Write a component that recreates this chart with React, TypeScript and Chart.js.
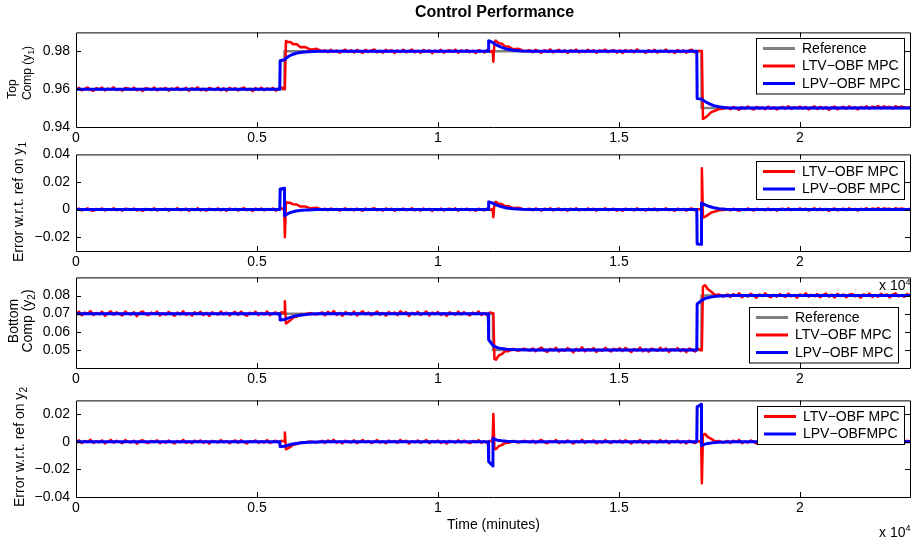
import React, { useEffect, useRef } from 'react';
import { Chart, registerables } from 'chart.js';

Chart.register(...registerables);

const FONT = "'Liberation Sans', Arial, Helvetica, sans-serif";
Chart.defaults.font.family = FONT;
Chart.defaults.color = '#000';

// ---- Setpoints (minutes / composition) ----
const refTime = [0, 5760, 5760, 11520, 11520, 17280, 17280, 23040];
const refTop = [0.96, 0.96, 0.98, 0.98, 0.98, 0.98, 0.95, 0.95];
const refBottom = [0.07, 0.07, 0.07, 0.07, 0.05, 0.05, 0.08, 0.08];

// sampling instants of a logged run: from, from + step, ..., to
function sampleInstants(from: number, to: number, step: number): number[] {
  const out: number[] = [];
  for (let t = from; t <= to; t += step) out.push(t);
  return out;
}

// ---- LTV-OBF MPC: measured compositions ----
// steady stretches are logged every 80 min; setpoint transients at their own instants
const LTV_TS = 80;
const ltvTime = [
  ...sampleInstants(0, 5680, LTV_TS), 5750,
  5770, 5800, 5850, 5920, 6000, 6100, 6200, 6320, 6480, 6640, 6800,
  ...sampleInstants(6880, 11440, LTV_TS), 11510,
  11530, 11560, 11600, 11680, 11760, 11850, 11950, 12080, 12220, 12380, 12540,
  ...sampleInstants(12620, 17180, LTV_TS), 17270,
  17290, 17320, 17380, 17450, 17550, 17650, 17760, 17880, 18000,
  ...sampleInstants(18080, 23040, LTV_TS),
];
const ltvTop = [
  // 0 – 5680
  0.9597, 0.9607, 0.9594, 0.9602, 0.9609, 0.9596, 0.9591, 0.9605, 0.9600, 0.9608,
  0.9593, 0.9603, 0.9598, 0.9610, 0.9595, 0.9601, 0.9592, 0.9606, 0.9604, 0.9597,
  0.9608, 0.9594, 0.9601, 0.9590, 0.9605, 0.9602, 0.9596, 0.9609, 0.9593, 0.9603,
  0.9600, 0.9606, 0.9592, 0.9604, 0.9598, 0.9609, 0.9595, 0.9599, 0.9607, 0.9591,
  0.9605, 0.9597, 0.9610, 0.9594, 0.9602, 0.9592, 0.9606, 0.9601, 0.9596, 0.9608,
  0.9594, 0.9604, 0.9591, 0.9607, 0.9599, 0.9605, 0.9593, 0.9603, 0.9609, 0.9595,
  0.9602, 0.9590, 0.9606, 0.9597, 0.9608, 0.9594, 0.9604, 0.9598, 0.9607, 0.9592,
  0.9603, 0.9609,
  0.9601,
  // first setpoint change
  0.9600, 0.9855, 0.9849, 0.9849, 0.9838, 0.9837, 0.9822, 0.9823, 0.9809, 0.9813, 0.9801,
  // 6880 – 11440
  0.9806, 0.9795, 0.9808, 0.9798, 0.9804, 0.9792, 0.9802, 0.9809, 0.9796, 0.9805,
  0.9794, 0.9807, 0.9800, 0.9791, 0.9808, 0.9797, 0.9805, 0.9810, 0.9795, 0.9802,
  0.9793, 0.9808, 0.9799, 0.9806, 0.9791, 0.9804, 0.9797, 0.9808, 0.9795, 0.9801,
  0.9809, 0.9794, 0.9803, 0.9792, 0.9807, 0.9798, 0.9805, 0.9790, 0.9804, 0.9796,
  0.9808, 0.9793, 0.9802, 0.9806, 0.9797, 0.9809, 0.9792, 0.9804, 0.9799, 0.9807,
  0.9795, 0.9803, 0.9791, 0.9806, 0.9801, 0.9794, 0.9808, 0.9798,
  0.9802,
  // second setpoint change
  0.9745, 0.9850, 0.9857, 0.9842, 0.9841, 0.9826, 0.9825, 0.9811, 0.9814, 0.9801, 0.9806,
  // 12620 – 17180
  0.9795, 0.9808, 0.9800, 0.9792, 0.9806, 0.9797, 0.9810, 0.9794, 0.9802, 0.9808,
  0.9796, 0.9805, 0.9791, 0.9806, 0.9799, 0.9809, 0.9794, 0.9803, 0.9796, 0.9808,
  0.9798, 0.9806, 0.9792, 0.9804, 0.9800, 0.9809, 0.9795, 0.9803, 0.9806, 0.9793,
  0.9804, 0.9791, 0.9807, 0.9798, 0.9805, 0.9794, 0.9810, 0.9797, 0.9801, 0.9792,
  0.9806, 0.9796, 0.9808, 0.9793, 0.9803, 0.9799, 0.9809, 0.9795, 0.9802, 0.9791,
  0.9807, 0.9797, 0.9805, 0.9792, 0.9804, 0.9808, 0.9794, 0.9802,
  0.9802,
  // third setpoint change
  0.9800, 0.9443, 0.9449, 0.9460, 0.9479, 0.9486, 0.9495, 0.9497, 0.9503,
  // 18080 – 23040
  0.9494, 0.9506, 0.9498, 0.9491, 0.9504, 0.9496, 0.9508, 0.9500, 0.9492, 0.9506,
  0.9498, 0.9503, 0.9494, 0.9508, 0.9496, 0.9504, 0.9492, 0.9502, 0.9506, 0.9497,
  0.9510, 0.9496, 0.9504, 0.9500, 0.9508, 0.9498, 0.9506, 0.9493, 0.9502, 0.9509,
  0.9495, 0.9507, 0.9497, 0.9505, 0.9491, 0.9503, 0.9508, 0.9494, 0.9501, 0.9507,
  0.9496, 0.9509, 0.9498, 0.9505, 0.9493, 0.9506, 0.9500, 0.9510, 0.9497, 0.9508,
  0.9502, 0.9511, 0.9499, 0.9509, 0.9504, 0.9507, 0.9498, 0.9510, 0.9503, 0.9508,
  0.9505, 0.9501, 0.9506,
];
const ltvBottom = [
  // 0 – 5680
  0.0695, 0.0711, 0.0691, 0.0706, 0.0698, 0.0714, 0.0692, 0.0704, 0.0697, 0.0710,
  0.0688, 0.0702, 0.0713, 0.0694, 0.0707, 0.0699, 0.0690, 0.0712, 0.0700, 0.0695,
  0.0708, 0.0686, 0.0704, 0.0712, 0.0697, 0.0691, 0.0706, 0.0698, 0.0711, 0.0690,
  0.0702, 0.0694, 0.0709, 0.0700, 0.0688, 0.0706, 0.0696, 0.0713, 0.0693, 0.0703,
  0.0689, 0.0708, 0.0698, 0.0710, 0.0692, 0.0705, 0.0687, 0.0707, 0.0701, 0.0694,
  0.0712, 0.0696, 0.0706, 0.0690, 0.0703, 0.0709, 0.0693, 0.0711, 0.0697, 0.0688,
  0.0705, 0.0699, 0.0710, 0.0692, 0.0704, 0.0695, 0.0712, 0.0691, 0.0702, 0.0707,
  0.0694, 0.0708,
  0.0703,
  // first setpoint change
  0.0768, 0.0646, 0.0652, 0.0663, 0.0678, 0.0684, 0.0695, 0.0697, 0.0703, 0.0695, 0.0707,
  // 6880 – 11440
  0.0691, 0.0710, 0.0698, 0.0714, 0.0693, 0.0704, 0.0688, 0.0708, 0.0700, 0.0695,
  0.0711, 0.0690, 0.0702, 0.0713, 0.0696, 0.0706, 0.0691, 0.0701, 0.0712, 0.0694,
  0.0704, 0.0689, 0.0709, 0.0698, 0.0706, 0.0692, 0.0713, 0.0700, 0.0708, 0.0687,
  0.0705, 0.0696, 0.0710, 0.0693, 0.0702, 0.0712, 0.0690, 0.0706, 0.0697, 0.0709,
  0.0692, 0.0703, 0.0688, 0.0707, 0.0701, 0.0694, 0.0711, 0.0695, 0.0708, 0.0698,
  0.0690, 0.0706, 0.0697, 0.0712, 0.0693, 0.0704, 0.0691, 0.0707,
  0.0703,
  // second setpoint change
  0.0701, 0.0450, 0.0446, 0.0469, 0.0476, 0.0492, 0.0493, 0.0506, 0.0495, 0.0507, 0.0496,
  // 12620 – 17180
  0.0508, 0.0492, 0.0504, 0.0513, 0.0496, 0.0489, 0.0506, 0.0498, 0.0512, 0.0491,
  0.0502, 0.0494, 0.0510, 0.0500, 0.0487, 0.0506, 0.0496, 0.0514, 0.0492, 0.0504,
  0.0498, 0.0510, 0.0489, 0.0502, 0.0494, 0.0512, 0.0500, 0.0491, 0.0506, 0.0497,
  0.0509, 0.0493, 0.0511, 0.0499, 0.0488, 0.0505, 0.0495, 0.0513, 0.0492, 0.0503,
  0.0490, 0.0507, 0.0501, 0.0494, 0.0512, 0.0496, 0.0508, 0.0489, 0.0504, 0.0498,
  0.0510, 0.0493, 0.0505, 0.0488, 0.0508, 0.0500, 0.0491, 0.0506,
  0.0498,
  // third setpoint change
  0.0500, 0.0850, 0.0857, 0.0836, 0.0821, 0.0803, 0.0806, 0.0794, 0.0806,
  // 18080 – 23040
  0.0792, 0.0808, 0.0798, 0.0812, 0.0790, 0.0802, 0.0794, 0.0810, 0.0800, 0.0788,
  0.0806, 0.0796, 0.0812, 0.0798, 0.0790, 0.0804, 0.0794, 0.0808, 0.0800, 0.0792,
  0.0810, 0.0796, 0.0802, 0.0788, 0.0806, 0.0798, 0.0812, 0.0794, 0.0804, 0.0796,
  0.0808, 0.0791, 0.0803, 0.0811, 0.0793, 0.0805, 0.0789, 0.0809, 0.0797, 0.0806,
  0.0790, 0.0804, 0.0809, 0.0795, 0.0801, 0.0788, 0.0807, 0.0798, 0.0811, 0.0792,
  0.0803, 0.0794, 0.0810, 0.0799, 0.0806, 0.0790, 0.0805, 0.0812, 0.0796, 0.0802,
  0.0793, 0.0808, 0.0800,
];

// ---- LPV-OBF MPC: compositions (acts one sample ahead of each setpoint change) ----
const lpvTime = [
  0, 5630, 5640, 5759, 5760, 5800, 5880, 5960, 6080, 6240, 6420, 6650, 6900,
  11390, 11400, 11519, 11520, 11560, 11640, 11760, 11900, 12080, 12300, 12550,
  17150, 17160, 17279, 17280, 17320, 17400, 17500, 17620, 17760, 17950, 18200, 23040,
];
const lpvTop = [
  0.9600, 0.9600, 0.9750, 0.9755, 0.9755, 0.9763, 0.9774, 0.9782, 0.9790, 0.9795, 0.9798, 0.9800, 0.9800,
  0.9800, 0.9856, 0.9846, 0.9846, 0.9840, 0.9831, 0.9821, 0.9812, 0.9806, 0.9802, 0.9800,
  0.9800, 0.9550, 0.9548, 0.9548, 0.9542, 0.9532, 0.9522, 0.9513, 0.9507, 0.9502, 0.9500, 0.9500,
];
const lpvBottom = [
  0.0700, 0.0700, 0.0665, 0.0668, 0.0668, 0.0671, 0.0677, 0.0682, 0.0688, 0.0693, 0.0696, 0.0699, 0.0700,
  0.0700, 0.0556, 0.0525, 0.0525, 0.0519, 0.0512, 0.0507, 0.0504, 0.0502, 0.0501, 0.0500,
  0.0500, 0.0753, 0.0772, 0.0772, 0.0778, 0.0785, 0.0790, 0.0794, 0.0797, 0.0799, 0.0800, 0.0800,
];

// ---- Axis ticks ----
const timeTicks = [0, 5000, 10000, 15000, 20000];
const timeTickLabels = ['0', '0.5', '1', '1.5', '2'];
const topTicks = [0.94, 0.96, 0.98];
const topTickLabels = ['0.94', '0.96', '0.98'];
const errTopTicks = [-0.02, 0, 0.02, 0.04];
const errTopTickLabels = ['\u22120.02', '0', '0.02', '0.04'];
const bottomTicks = [0.05, 0.06, 0.07, 0.08];
const bottomTickLabels = ['0.05', '0.06', '0.07', '0.08'];
const errBottomTicks = [-0.04, -0.02, 0, 0.02];
const errBottomTickLabels = ['\u22120.04', '\u22120.02', '0', '0.02'];

const T_END = 23040;

type Pt = { x: number; y: number };

function series(t: number[], v: number[]): Pt[] {
  const n = Math.min(t.length, v.length);
  const out: Pt[] = [];
  for (let i = 0; i < n; i++) out.push({ x: t[i], y: v[i] });
  return out;
}

function setpointAt(t: number, vals: number[]): number {
  let v = vals[0];
  for (let i = 0; i < refTime.length; i++) if (refTime[i] <= t) v = vals[i];
  return v;
}

// tracking error = output - setpoint
function trackingError(t: number[], v: number[], ref: number[]): Pt[] {
  return series(t, v).map((p) => ({ x: p.x, y: p.y - setpointAt(p.x, ref) }));
}

const GREY = '#808080';
const RED = '#ff0000';
const BLUE = '#0000ff';

type Line = { label: string; color: string; width: number; order: number; points: Pt[] };
type LegendBox = { right: number; top: number; w: number };
type PanelSpec = {
  top: number; bottom: number;
  yMin: number; yMax: number; yTicks: number[]; yTickLabels: string[];
  lines: Line[]; legend: LegendBox;
};

const RED_W = 2.5;
const BLUE_W = 3;
const GREY_W = 2.5;

const panels: PanelSpec[] = [
  {
    top: 28, bottom: 127, yMin: 0.94, yMax: 0.99, yTicks: topTicks, yTickLabels: topTickLabels,
    lines: [
      { label: 'Reference', color: GREY, width: GREY_W, order: 2, points: series(refTime, refTop) },
      { label: 'LTV\u2212OBF MPC', color: RED, width: RED_W, order: 1, points: series(ltvTime, ltvTop) },
      { label: 'LPV\u2212OBF MPC', color: BLUE, width: BLUE_W, order: 0, points: series(lpvTime, lpvTop) },
    ],
    legend: { right: 6, top: 6, w: 148 },
  },
  {
    top: 150, bottom: 251, yMin: -0.03, yMax: 0.04, yTicks: errTopTicks, yTickLabels: errTopTickLabels,
    lines: [
      { label: 'LTV\u2212OBF MPC', color: RED, width: RED_W, order: 1, points: trackingError(ltvTime, ltvTop, refTop) },
      { label: 'LPV\u2212OBF MPC', color: BLUE, width: BLUE_W, order: 0, points: trackingError(lpvTime, lpvTop, refTop) },
    ],
    legend: { right: 6, top: 7, w: 148 },
  },
  {
    top: 273, bottom: 368, yMin: 0.04, yMax: 0.09, yTicks: bottomTicks, yTickLabels: bottomTickLabels,
    lines: [
      { label: 'Reference', color: GREY, width: GREY_W, order: 2, points: series(refTime, refBottom) },
      { label: 'LTV\u2212OBF MPC', color: RED, width: RED_W, order: 1, points: series(ltvTime, ltvBottom) },
      { label: 'LPV\u2212OBF MPC', color: BLUE, width: BLUE_W, order: 0, points: series(lpvTime, lpvBottom) },
    ],
    legend: { right: 12, top: 30, w: 149 },
  },
  {
    top: 396, bottom: 497, yMin: -0.04, yMax: 0.03, yTicks: errBottomTicks, yTickLabels: errBottomTickLabels,
    lines: [
      { label: 'LTV\u2212OBF MPC', color: RED, width: RED_W, order: 1, points: trackingError(ltvTime, ltvBottom, refBottom) },
      { label: 'LPV\u2212OBFMPC', color: BLUE, width: BLUE_W, order: 0, points: trackingError(lpvTime, lpvBottom, refBottom) },
    ],
    legend: { right: 6, top: 6, w: 147 },
  },
];

const PAD_TOP = 10;
const X_AXIS_H = 24;
const Y_AXIS_W = 76;
const PAGE_W = 914;
const PAGE_H = 542;
const TICK_LEN = 5;

// Boxed axes with inward tick marks on all four sides
const boxFrame = {
  id: 'boxFrame',
  afterDatasetsDraw(chart: any) {
    const { ctx, chartArea: a, scales } = chart;
    const xs = scales.x;
    const ys = scales.y;
    ctx.save();
    ctx.strokeStyle = '#000';
    ctx.lineWidth = 1;
    ctx.beginPath();
    ctx.rect(a.left + 0.5, a.top + 0.5, a.right - a.left, a.bottom - a.top);
    for (const v of timeTicks) {
      if (v <= xs.min || v >= xs.max) continue;
      const px = Math.round(xs.getPixelForValue(v)) + 0.5;
      ctx.moveTo(px, a.bottom);
      ctx.lineTo(px, a.bottom - TICK_LEN);
      ctx.moveTo(px, a.top);
      ctx.lineTo(px, a.top + TICK_LEN);
    }
    for (const v of chart.options.plugins.boxFrame.yTicks as number[]) {
      if (v <= ys.min + 1e-9 || v >= ys.max - 1e-9) continue;
      const py = Math.round(ys.getPixelForValue(v)) + 0.5;
      ctx.moveTo(a.left, py);
      ctx.lineTo(a.left + TICK_LEN, py);
      ctx.moveTo(a.right, py);
      ctx.lineTo(a.right - TICK_LEN, py);
    }
    ctx.stroke();
    ctx.restore();
  },
};

// Legend drawn inside the axes, anchored to the upper right
const insetLegend = {
  id: 'insetLegend',
  afterDraw(chart: any, _args: any, opts: any) {
    const { ctx, chartArea: a } = chart;
    const sets = chart.data.datasets;
    const rowH = 17.5;
    const h = rowH * sets.length + 3;
    const x = Math.round(a.right - opts.right - opts.w);
    const y = Math.round(a.top + opts.top);
    ctx.save();
    ctx.fillStyle = '#fff';
    ctx.fillRect(x, y, opts.w, h);
    ctx.strokeStyle = '#000';
    ctx.lineWidth = 1;
    ctx.strokeRect(x + 0.5, y + 0.5, opts.w, h);
    ctx.font = `14px ${FONT}`;
    ctx.textBaseline = 'middle';
    ctx.textAlign = 'left';
    sets.forEach((d: any, i: number) => {
      const cy = y + 10.5 + rowH * i;
      ctx.strokeStyle = d.borderColor;
      ctx.lineWidth = 3;
      ctx.beginPath();
      ctx.moveTo(x + 7, cy);
      ctx.lineTo(x + 39, cy);
      ctx.stroke();
      ctx.fillStyle = '#000';
      ctx.fillText(d.label, x + 46, cy + 0.5);
    });
    ctx.restore();
  },
};

function makeConfig(p: PanelSpec): any {
  return {
    type: 'line',
    data: {
      datasets: p.lines.map((l) => ({
        label: l.label,
        data: l.points,
        borderColor: l.color,
        backgroundColor: l.color,
        borderWidth: l.width,
        order: l.order,
        pointRadius: 0,
        tension: 0,
        fill: false,
        borderJoinStyle: 'round',
      })),
    },
    options: {
      animation: false,
      responsive: false,
      devicePixelRatio: 1,
      events: [],
      layout: { padding: { top: PAD_TOP, right: PAGE_W - 910, left: 0, bottom: 0 } },
      scales: {
        x: {
          type: 'linear',
          min: 0,
          max: T_END,
          grid: { display: false, drawTicks: false, tickLength: 0 },
          border: { display: false },
          afterBuildTicks: (s: any) => {
            s.ticks = timeTicks.map((v) => ({ value: v }));
          },
          afterFit: (s: any) => {
            s.height = X_AXIS_H;
          },
          ticks: {
            autoSkip: false,
            maxRotation: 0,
            minRotation: 0,
            padding: 3,
            color: '#000',
            font: { size: 14, family: FONT },
            callback: (_v: number, i: number) => timeTickLabels[i],
          },
        },
        y: {
          type: 'linear',
          min: p.yMin,
          max: p.yMax,
          grid: { display: false, drawTicks: false, tickLength: 0 },
          border: { display: false },
          afterBuildTicks: (s: any) => {
            s.ticks = p.yTicks.map((v) => ({ value: v }));
          },
          afterFit: (s: any) => {
            s.width = Y_AXIS_W;
          },
          ticks: {
            padding: 6,
            color: '#000',
            font: { size: 14, family: FONT },
            callback: (_v: number, i: number) => p.yTickLabels[i],
          },
        },
      },
      plugins: {
        legend: { display: false },
        tooltip: { enabled: false },
        title: { display: false },
        boxFrame: { yTicks: p.yTicks },
        insetLegend: p.legend,
      },
    },
    plugins: [boxFrame, insetLegend],
  };
}

function Panel({ spec }: { spec: PanelSpec }) {
  const ref = useRef<HTMLCanvasElement>(null);
  const h = PAD_TOP + (spec.bottom - spec.top) + X_AXIS_H;
  useEffect(() => {
    if (!ref.current) return;
    const chart = new Chart(ref.current, makeConfig(spec));
    return () => chart.destroy();
  }, [spec]);
  return (
    <canvas
      ref={ref}
      width={PAGE_W}
      height={h}
      style={{ position: 'absolute', left: 0, top: spec.top - PAD_TOP, width: PAGE_W, height: h }}
    />
  );
}

const sub = (s: string) => (
  <span style={{ fontSize: '0.72em', position: 'relative', top: '0.3em' }}>{s}</span>
);
const sup = (s: string) => (
  <span style={{ fontSize: '0.65em', position: 'relative', top: '-0.6em' }}>{s}</span>
);

function VText({ cx, cy, size, children }: { cx: number; cy: number; size: number; children: any }) {
  return (
    <div
      style={{
        position: 'absolute',
        left: cx,
        top: cy,
        transform: 'translate(-50%, -50%) rotate(-90deg)',
        fontSize: size,
        lineHeight: 1,
        whiteSpace: 'nowrap',
        fontFamily: FONT,
        color: '#000',
      }}
    >
      {children}
    </div>
  );
}

function HText({ cx, cy, size, bold, children, left }: { cx?: number; cy: number; size: number; bold?: boolean; children: any; left?: number }) {
  return (
    <div
      style={{
        position: 'absolute',
        left: left !== undefined ? left : cx,
        top: cy,
        transform: left !== undefined ? 'translate(0, -50%)' : 'translate(-50%, -50%)',
        fontSize: size,
        fontWeight: bold ? 'bold' : 'normal',
        lineHeight: 1,
        whiteSpace: 'nowrap',
        fontFamily: FONT,
        color: '#000',
      }}
    >
      {children}
    </div>
  );
}

export default function App() {
  return (
    <div
      style={{
        position: 'absolute',
        left: 0,
        top: 0,
        width: PAGE_W,
        height: PAGE_H,
        background: '#fff',
        overflow: 'hidden',
      }}
    >
      {panels.map((p, i) => (
        <Panel key={i} spec={p} />
      ))}

      <HText cx={494.5} cy={12} size={16} bold>Control Performance</HText>

      <VText cx={12} cy={88.5} size={12}>Top</VText>
      <VText cx={27} cy={73} size={12}>Comp (y{sub('1')})</VText>

      <VText cx={18} cy={202} size={14}>Error w.r.t. ref on y{sub('1')}</VText>

      <VText cx={12.5} cy={320.5} size={14}>Bottom</VText>
      <VText cx={26.5} cy={320.5} size={14}>Comp (y{sub('2')})</VText>

      <VText cx={18.5} cy={447} size={14}>Error w.r.t. ref on y{sub('2')}</VText>

      <HText left={879} cy={285} size={14}>x 10{sup('4')}</HText>
      <HText cx={493.5} cy={523.5} size={14}>Time (minutes)</HText>
      <HText left={879} cy={531.5} size={14}>x 10{sup('4')}</HText>
    </div>
  );
}
